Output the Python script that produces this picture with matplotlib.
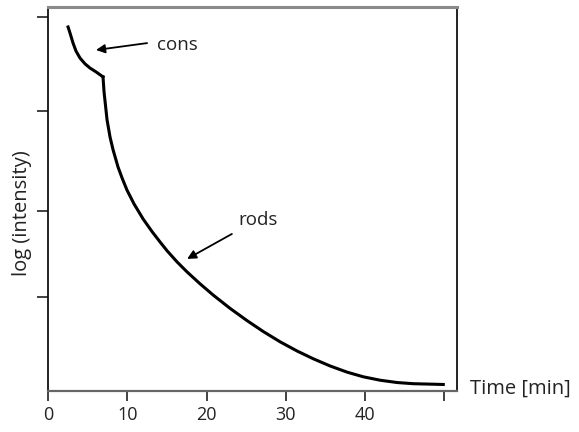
import matplotlib
matplotlib.use("Agg")
import matplotlib.pyplot as plt

# Data (arbitrary log-intensity units)
cone_t = [2.53, 2.78, 3.16, 3.54, 4.04, 4.67, 5.30, 6.06, 6.94]
cone_y = [9.48, 9.32, 9.06, 8.85, 8.67, 8.52, 8.41, 8.31, 8.18]

rod_t = [6.94, 7.07, 7.45, 7.83, 8.21, 8.84, 9.34, 9.97, 10.86, 12.0, 13.13, 14.14,
         15.03, 16.29, 17.55, 19.19, 20.83, 22.98, 25.13, 27.15, 29.29, 31.44,
         33.46, 35.61, 37.75, 39.77, 41.92, 44.07, 46.09, 49.87]
rod_y = [8.18, 7.79, 7.06, 6.61, 6.28, 5.83, 5.55, 5.23, 4.87, 4.48, 4.15, 3.88,
         3.65, 3.36, 3.10, 2.79, 2.50, 2.15, 1.83, 1.55, 1.28, 1.04,
         0.84, 0.65, 0.49, 0.37, 0.28, 0.22, 0.19, 0.17]

xticks = [0, 10, 20, 30, 40, 50]
xtick_labels = ["0", "10", "20", "30", "40", ""]
yticks = [2.45, 4.69, 7.29, 9.74]

plt.rcParams['font.family'] = ['Open Sans', 'DejaVu Sans']
text_color = '#222222'

fig = plt.figure(figsize=(5.79, 4.32), dpi=100)
ax = fig.add_axes([48/579, 1-391/432, (457-48)/579, (391-7)/432])

ax.plot(cone_t, cone_y, color='black', lw=2.2, solid_joinstyle='round')
ax.plot(rod_t, rod_y, color='black', lw=2.2, solid_joinstyle='round')

ax.set_xlim(0, 51.6)
ax.set_ylim(0, 10)
ax.set_xticks(xticks)
ax.set_xticklabels(xtick_labels)
ax.set_yticks(yticks)
ax.set_yticklabels([])
ax.tick_params(axis='x', direction='out', length=7, width=1.3, labelsize=13,
               pad=4, color='#333333', labelcolor=text_color)
ax.tick_params(axis='y', direction='out', length=8, width=1.3, color='#333333')

ax.spines['top'].set_color('#8a8a8a')
ax.spines['top'].set_linewidth(2.2)
ax.spines['bottom'].set_color('#666666')
ax.spines['bottom'].set_linewidth(1.6)
ax.spines['left'].set_color('#111111')
ax.spines['left'].set_linewidth(1.3)
ax.spines['right'].set_color('#111111')
ax.spines['right'].set_linewidth(1.3)

# annotations
ax.text(13.76, 9.01, "cons", fontsize=13.5, va='center', ha='left', color=text_color)
ax.annotate("", xy=(6.06, 8.88), xytext=(12.5, 9.06),
            arrowprops=dict(arrowstyle='-|>', color='black', lw=1.3,
                            mutation_scale=13, shrinkA=0, shrinkB=0))
ax.text(24.0, 4.45, "rods", fontsize=13.5, va='center', ha='left', color=text_color)
ax.annotate("", xy=(17.55, 3.44), xytext=(23.2, 4.09),
            arrowprops=dict(arrowstyle='-|>', color='black', lw=1.3,
                            mutation_scale=13, shrinkA=0, shrinkB=0))

fig.text(22/579, 1-213/432, "log (intensity)", fontsize=14.5, rotation=90,
         va='center', ha='center', color=text_color)
fig.text(470/579, 1-389/432, "Time [min]", fontsize=14.5, va='center', ha='left',
         color=text_color)

fig.savefig("out.png", dpi=100)
